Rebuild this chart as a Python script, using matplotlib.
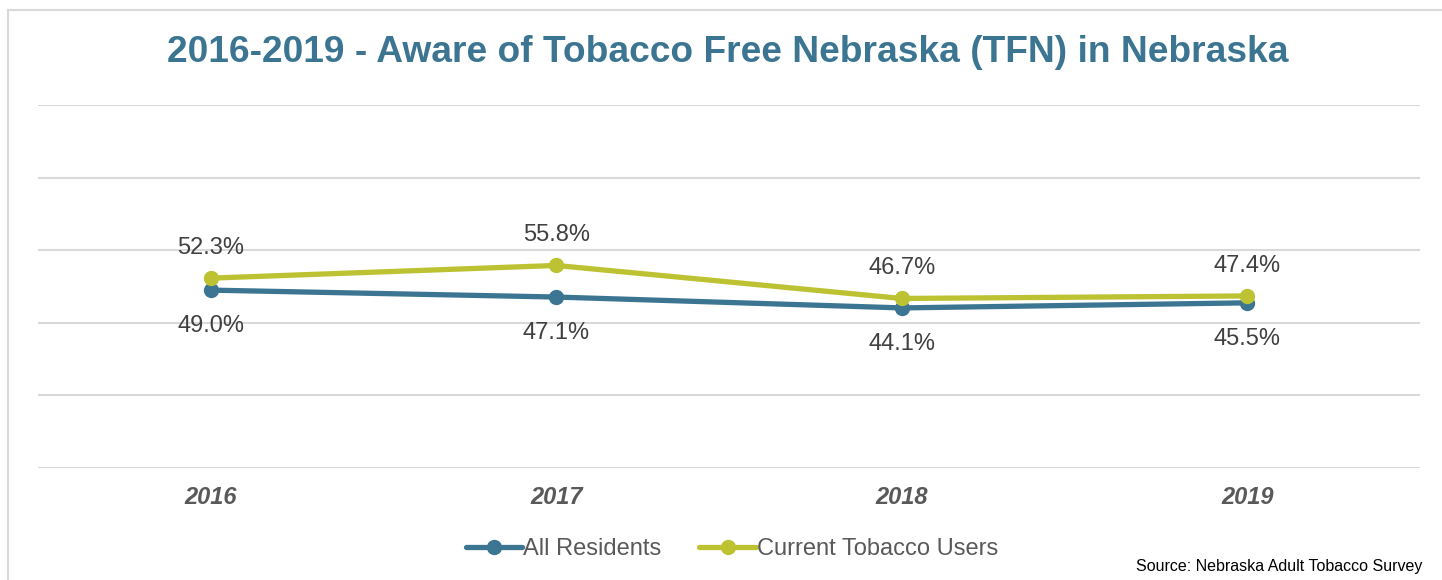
import matplotlib.pyplot as plt
from matplotlib.patches import Rectangle

plt.rcParams['font.family'] = ['Liberation Sans', 'DejaVu Sans']

years = ['2016', '2017', '2018', '2019']
all_residents = [49.0, 47.1, 44.1, 45.5]
tobacco_users = [52.3, 55.8, 46.7, 47.4]

blue = '#3B7592'
green = '#BDC232'
grid_gray = '#D9D9D9'

fig = plt.figure(figsize=(14.42, 5.8), dpi=100)
W, H = 1442, 580

# outer chart border (right and bottom edges fall outside the image)
fig.patches.append(Rectangle((8 / W, -0.2), 1.5, 1.2 - 10 / H, transform=fig.transFigure,
                             fill=False, edgecolor='#D9D9D9', linewidth=1.5))

ax = fig.add_axes([38 / W, 1 - 468 / H, (1420 - 38) / W, (468 - 105) / H])
x = range(len(years))

ax.plot(x, all_residents, color=blue, lw=3.8, marker='o', ms=10, label='All Residents',
        solid_capstyle='round', zorder=3)
ax.plot(x, tobacco_users, color=green, lw=3.8, marker='o', ms=10, label='Current Tobacco Users',
        solid_capstyle='round', zorder=4)

for i, v in enumerate(all_residents):
    ax.annotate(f'{v:.1f}%', (i, v), xytext=(0, -36), textcoords='offset pixels',
                ha='center', va='center', fontsize=17, color='#404040')
for i, v in enumerate(tobacco_users):
    ax.annotate(f'{v:.1f}%', (i, v), xytext=(0, 30), textcoords='offset pixels',
                ha='center', va='center', fontsize=17, color='#404040')

ax.set_xlim(-0.5, 3.5)
ax.set_ylim(0, 100)
ax.set_yticks([0, 20, 40, 60, 80, 100])
ax.yaxis.grid(True, color=grid_gray, lw=1.5)
ax.set_axisbelow(True)
ax.tick_params(axis='y', left=False, labelleft=False)
ax.set_xticks(list(x))
ax.set_xticklabels(years, fontsize=17, fontweight='bold', fontstyle='italic', color='#595959')
ax.tick_params(axis='x', length=0, pad=13)
for s in ax.spines.values():
    s.set_visible(False)

fig.text(728 / W, 1 - 52 / H, '2016-2019 - Aware of Tobacco Free Nebraska (TFN) in Nebraska',
         ha='center', va='center', fontsize=26.7, fontweight='bold', color=blue)

leg = fig.legend(loc='center', bbox_to_anchor=(732 / W, 1 - 549 / H), ncol=2, frameon=False,
                 fontsize=17, handlelength=2.4, handletextpad=0.05, columnspacing=1.6,
                 borderaxespad=0)
for t in leg.get_texts():
    t.set_color('#595959')

fig.text(1422 / W, 1 - 567 / H, 'Source: Nebraska Adult Tobacco Survey', ha='right', va='center',
         fontsize=11.5, color='black')

fig.savefig('out.png', dpi=100)
